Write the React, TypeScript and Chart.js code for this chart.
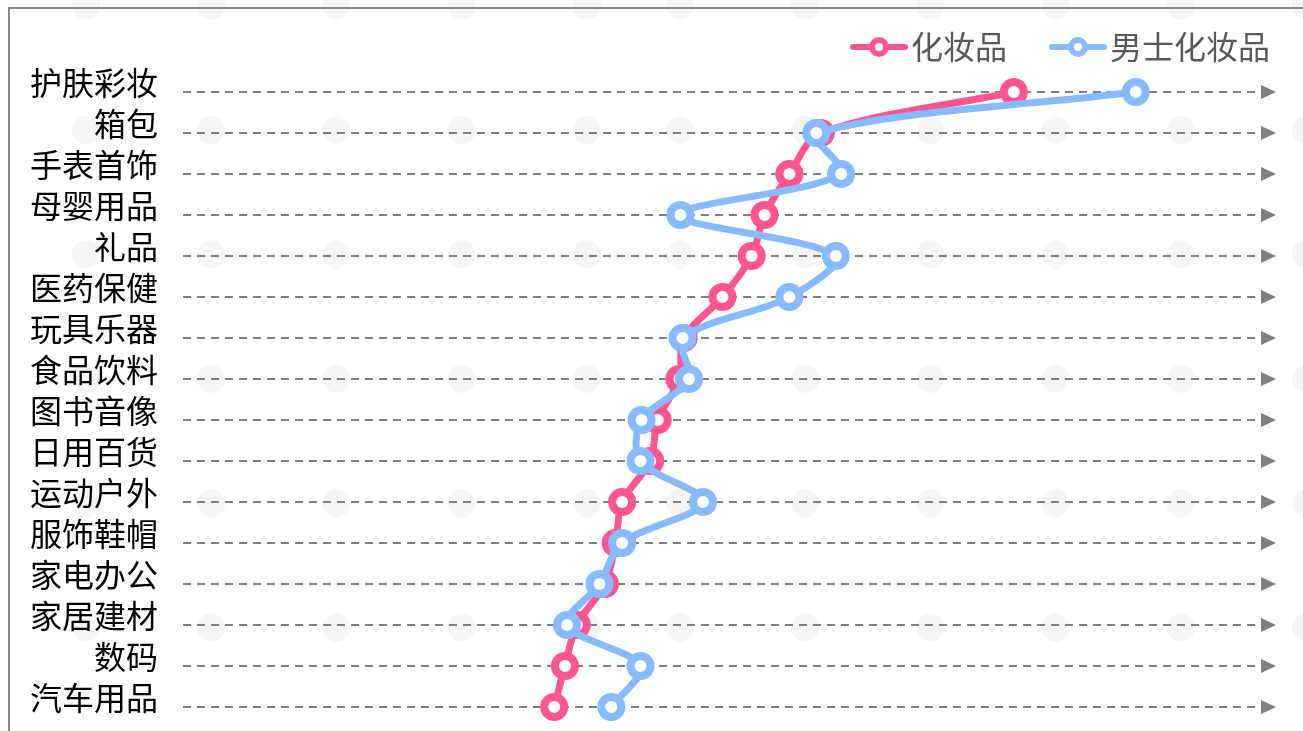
import React, { useEffect, useRef } from 'react';
import { Chart, registerables } from 'chart.js';

Chart.register(...registerables);

const categories = ['护肤彩妆', '箱包', '手表首饰', '母婴用品', '礼品', '医药保健', '玩具乐器', '食品饮料', '图书音像', '日用百货', '运动户外', '服饰鞋帽', '家电办公', '家居建材', '数码', '汽车用品'];
const seriesNames = ['化妆品', '男士化妆品'];
const cosmetics = [77.0, 59.1, 56.2, 53.9, 52.7, 50.0, 46.4, 46.0, 44.0, 43.3, 40.7, 40.1, 39.1, 36.5, 35.4, 34.4];
const mensCosmetics = [88.3, 58.7, 61.0, 46.1, 60.5, 56.2, 46.3, 46.9, 42.5, 42.4, 48.2, 40.7, 38.6, 35.6, 42.4, 39.7];
const valueMin = 0;
const valueMax = 100;

const PINK = '#ff5592';
const BLUE = '#88bbfd';
const GRID = '#808080';
const FONT = "'Noto Sans CJK SC', 'Noto Sans', sans-serif";

const ICON_EXTRA = 45;

function legendIcon(color: string) {
  const c = document.createElement('canvas');
  c.width = 58 + ICON_EXTRA;
  c.height = 22;
  const ctx = c.getContext('2d')!;
  const o = ICON_EXTRA;
  ctx.strokeStyle = color;
  ctx.lineCap = 'round';
  ctx.lineWidth = 6;
  ctx.beginPath();
  ctx.moveTo(o + 3, 11);
  ctx.lineTo(o + 55, 11);
  ctx.stroke();
  ctx.beginPath();
  ctx.arc(o + 29, 11, 7, 0, Math.PI * 2);
  ctx.fillStyle = '#ffffff';
  ctx.fill();
  ctx.lineWidth = 6;
  ctx.stroke();
  return c;
}

const arrowPlugin = {
  id: 'rowArrows',
  beforeDatasetsDraw(chart: any) {
    const ys = chart.scales.y;
    const right = chart.chartArea.right;
    const ctx = chart.ctx;
    ctx.save();
    ctx.fillStyle = '#808080';
    ys.ticks.forEach((_: any, i: number) => {
      const py = ys.getPixelForTick(i);
      ctx.beginPath();
      ctx.moveTo(right - 1, py - 7);
      ctx.lineTo(right + 14, py);
      ctx.lineTo(right - 1, py + 7);
      ctx.closePath();
      ctx.fill();
    });
    ctx.restore();
  },
};

export default function App() {
  const ref = useRef<HTMLCanvasElement>(null);

  useEffect(() => {
    if (!ref.current) return;
    const mk = (label: string, data: number[], color: string, order: number) => ({
      label,
      data,
      order,
      borderColor: color,
      backgroundColor: '#ffffff',
      borderWidth: 7,
      pointRadius: 10,
      pointBorderWidth: 8,
      pointBackgroundColor: '#ffffff',
      pointBorderColor: color,
      pointStyle: 'circle',
      tension: 0.32,
      clip: false,
      xAxisID: 'x',
      yAxisID: 'y',
    });
    const icons = [legendIcon(PINK), legendIcon(BLUE)];
    const chart = new Chart(ref.current, {
      type: 'line',
      data: {
        labels: categories,
        datasets: [mk(seriesNames[0], cosmetics, PINK, 1), mk(seriesNames[1], mensCosmetics, BLUE, 0)],
      },
      plugins: [arrowPlugin],
      options: {
        animation: false,
        responsive: true,
        maintainAspectRatio: false,
        indexAxis: 'y',
        layout: { padding: { top: 12, left: 0, right: 0, bottom: 22 } },
        scales: {
          x: {
            type: 'linear',
            display: false,
            min: valueMin,
            max: valueMax,
          },
          y: {
            type: 'category',
            position: 'left',
            offset: false,
            grid: { color: GRID, lineWidth: 2, drawTicks: false },
            border: { display: false, dash: [8, 6] },
            ticks: {
              color: '#000000',
              padding: 25,
              labelOffset: -9,
              autoSkip: false,
              font: { family: FONT, size: 32 },
            },
            afterFit: (s: any) => {
              s.width = 173;
              s.paddingTop = 0;
              s.paddingBottom = 0;
            },
          },
          yRight: {
            type: 'linear',
            position: 'right',
            axis: 'y',
            display: true,
            grid: { display: false },
            border: { display: false },
            ticks: { display: false },
            afterFit: (s: any) => {
              s.width = 16;
            },
          },
        },
        plugins: {
          tooltip: { enabled: false },
          title: {
            display: true,
            text: '',
            weight: 500,
            font: { size: 1, lineHeight: 1 },
            padding: { top: 0, bottom: 18 },
          },
          legend: {
            display: true,
            position: 'top',
            align: 'end',
            labels: {
              usePointStyle: true,
              pointStyleWidth: 32 + ICON_EXTRA,
              color: '#595959',
              padding: 10,
              font: { family: FONT, size: 32 },
              generateLabels: (ch: any) =>
                ch.data.datasets.map((ds: any, i: number) => ({
                  text: ds.label,
                  fillStyle: ds.borderColor,
                  strokeStyle: ds.borderColor,
                  fontColor: '#595959',
                  lineWidth: 0,
                  pointStyle: icons[i],
                  hidden: false,
                  datasetIndex: i,
                })),
            },
          },
        },
      },
    } as any);
    return () => chart.destroy();
  }, []);

  const dots = 'radial-gradient(circle, #f5f5f5 13.5px, rgba(245,245,245,0) 14.5px)';

  return (
    <div style={{ position: 'fixed', left: 0, top: 0, right: 0, bottom: 0, overflow: 'hidden', background: '#ffffff' }}>
      <div
        style={{
          position: 'absolute', left: 0, top: 0, width: 633, height: '100%',
          backgroundImage: dots, backgroundSize: '125.2px 124.4px', backgroundPosition: '23.4px -56.6px',
        }}
      />
      <div
        style={{
          position: 'absolute', left: 633, top: 0, width: 670, height: '100%',
          backgroundImage: dots, backgroundSize: '125.2px 124.4px', backgroundPosition: '-15.6px -56.6px',
        }}
      />
      <div style={{ position: 'absolute', left: 8, top: 7, width: 1400, height: 800, border: '2px solid #888888' }}>
        <div style={{ position: 'relative', width: 1270, height: 720 }}>
          <canvas ref={ref} />
        </div>
      </div>
    </div>
  );
}
